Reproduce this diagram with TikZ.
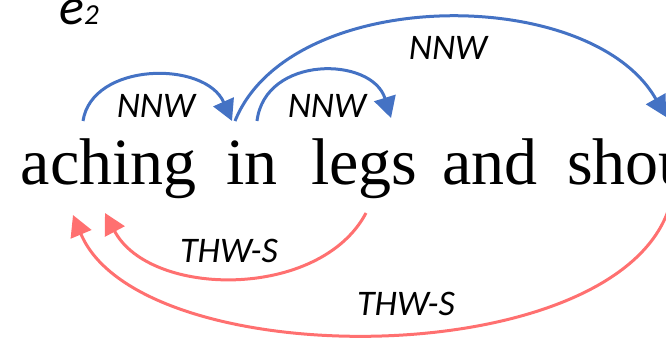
\documentclass[tikz,border=0pt]{standalone}
\usepackage{fontspec}
\setmainfont{Liberation Serif}
\newfontfamily\labfam{Carlito}
\usetikzlibrary{arrows.meta}
\definecolor{cblue}{HTML}{4472C4}
\definecolor{cred}{HTML}{FF7070}
\tikzset{
  word/.style={anchor=base west, inner sep=0pt, font=\fontsize{66pt}{70pt}\selectfont},
  lab/.style={anchor=base, inner sep=0pt, font=\labfam\itshape\fontsize{36pt}{40pt}\selectfont},
  bluearr/.style={draw=cblue, line width=3pt, -{Triangle[length=21pt,width=22pt]}},
  redarr/.style={draw=cred, line width=3pt, -{Triangle[length=21pt,width=22pt]}}
}
\begin{document}
\begin{tikzpicture}[x=1pt,y=-1pt]
\useasboundingbox (0,0) rectangle (666,347);
\clip (0,0) rectangle (666,347);
% title
\node[anchor=base west, inner sep=0pt, font=\labfam\itshape] (title) at (59,25)
  {{\fontsize{52pt}{54pt}\selectfont e}{\fontsize{29pt}{30pt}\selectfont 2}};
% words
\node[word] (w1) at (20.5,185) {aching};
\node[word] (w2) at (226,185) {in};
\node[word] (w3) at (311,185) {legs};
\node[word] (w4) at (442,185) {and};
\node[word] (w5) at (567,185) {shou};
% connector end points
\coordinate (b1s) at (83,121);
\coordinate (b1e) at (232,121);
\coordinate (b2s) at (257,121);
\coordinate (b2e) at (391,118);
\coordinate (b3s) at (235,121);
\coordinate (b3e) at (666,117);
\coordinate (r1s) at (366,213);
\coordinate (r1e) at (105,213);
\coordinate (r2s) at (670,205);
\coordinate (r2e) at (73,215);
% blue arrows
\draw[bluearr] (b1s) .. controls (92,62) and (205,60) .. (b1e);
\draw[bluearr] (b2s) .. controls (265,55) and (372,56) .. (b2e);
\draw[bluearr] (b3s) .. controls (290,-15) and (591,-16) .. (b3e);
% red arrows
\draw[redarr] (r1s) .. controls (320,300) and (150,298) .. (r1e);
\draw[redarr] (r2s) .. controls (620,375) and (140,375) .. (r2e);
% labels
\node[lab] (l1) at (156,118) {NNW};
\node[lab] (l2) at (327,118) {NNW};
\node[lab] (l3) at (448,60) {NNW};
\node[lab] (l4) at (229,262) {THW-S};
\node[lab] (l5) at (406,315) {THW-S};
\end{tikzpicture}
\end{document}
